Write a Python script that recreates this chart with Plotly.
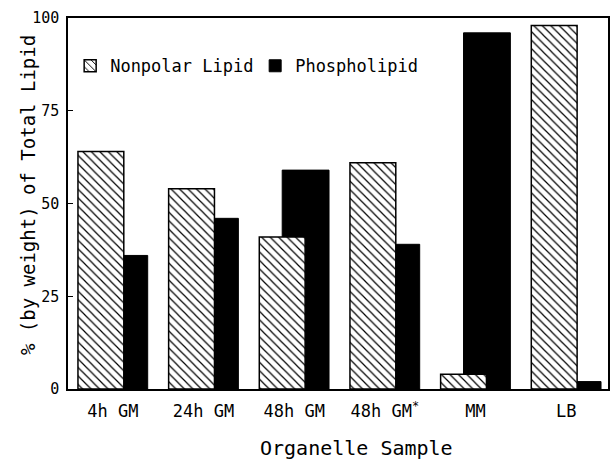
import plotly.graph_objects as go

categories = ["4h GM", "24h GM", "48h GM", "48h GM<sup>*</sup>", "MM", "LB"]
nonpolar_lipid = [64, 54, 41, 61, 4, 98]
phospholipid = [36, 46, 59, 39, 96, 2]
y_ticks = [0, 25, 50, 75, 100]

FONT = "DejaVu Sans Mono"
idx = list(range(len(categories)))

fig = go.Figure()
# Phospholipid (solid black) drawn first, behind
fig.add_trace(go.Bar(
    x=idx, y=phospholipid, name="Phospholipid",
    offset=-0.1319, width=0.5165,
    marker=dict(color="black", line=dict(color="black", width=1)),
))
# Nonpolar lipid (hatched) drawn on top
fig.add_trace(go.Bar(
    x=idx, y=nonpolar_lipid, name="Nonpolar Lipid",
    offset=-0.3846, width=0.5055,
    marker=dict(color="white", line=dict(color="black", width=1.5),
                pattern=dict(shape="\\", fgcolor="black", bgcolor="white",
                             size=6, solidity=0.2, fillmode="replace")),
))

fig.update_layout(
    width=612, height=462,
    margin=dict(l=68, r=2, t=18, b=73),
    paper_bgcolor="white", plot_bgcolor="white",
    barmode="overlay",
    font=dict(family=FONT, color="black", size=16),
    showlegend=True,
    legend=dict(orientation="h", x=0.004, xanchor="left", y=0.87, yanchor="middle",
                traceorder="reversed", font=dict(family=FONT, size=17),
                bgcolor="rgba(0,0,0,0)", entrywidth=140),
    xaxis=dict(range=[-0.4945, 5.4615], tickvals=idx, ticktext=categories,
               ticks="", showline=True, linecolor="black", linewidth=1.5,
               mirror=True, showgrid=False, zeroline=False,
               tickfont=dict(family=FONT, size=17), ticklabelstandoff=6),
    yaxis=dict(range=[0, 100], tickvals=y_ticks, ticks="inside", ticklen=5,
               tickcolor="black", showline=True, linecolor="black", linewidth=1.5,
               mirror=True, showgrid=False, zeroline=False,
               tickfont=dict(family=FONT, size=15), ticklabelstandoff=4),
    annotations=[
        dict(text="Organelle Sample", xref="paper", yref="paper",
             x=0.535, y=-0.16, xanchor="center", yanchor="middle",
             showarrow=False, font=dict(family=FONT, size=20)),
        dict(text="% (by weight) of Total Lipid", xref="paper", yref="paper",
             x=-0.0738, y=0.523, xanchor="center", yanchor="middle", textangle=-90,
             showarrow=False, font=dict(family=FONT, size=19)),
    ],
)

fig.write_html("out.html", config={"displayModeBar": False},
               post_script="document.body.style.margin='0';")
